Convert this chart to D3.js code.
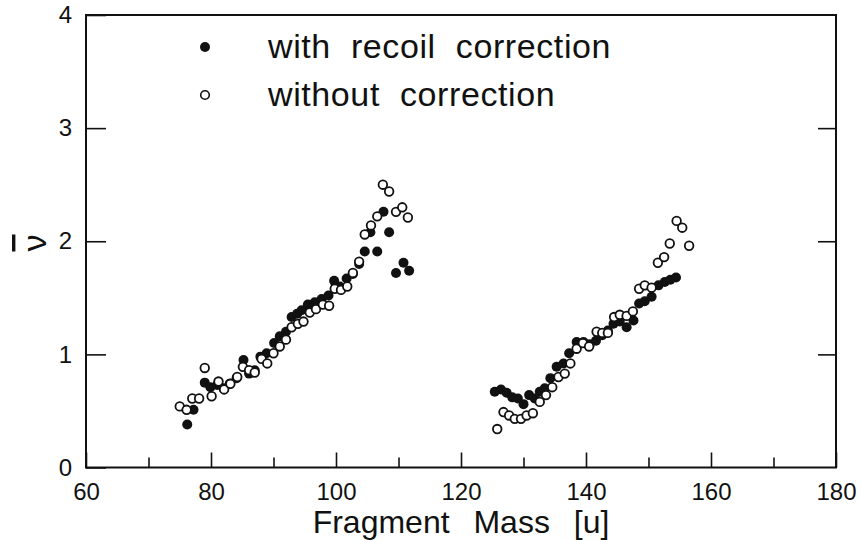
<!DOCTYPE html>
<html>
<head>
<meta charset="utf-8">
<script src="https://cdn.jsdelivr.net/npm/d3@7"></script>
<style>
  html, body { margin: 0; padding: 0; background: #fff; }
  svg text { font-family: "Liberation Sans", Arial, sans-serif; fill: #111; }
</style>
</head>
<body>
<svg id="chart" width="861" height="540"></svg>
<script>
// Mean neutron multiplicity vs fragment mass
const massWith = [76.2, 77.2, 79.0, 79.9, 81.0, 82.0, 83.0, 84.1, 85.2, 86.1, 87.0, 87.9, 88.9, 90.1, 91.0, 92.0,
  92.9, 93.8, 94.5, 95.5, 96.6, 97.7, 98.8, 99.7, 100.6, 101.7, 102.7, 103.7, 104.6, 105.5, 106.6, 107.6,
  108.5, 109.6, 110.8, 111.7,
  125.4, 126.4, 127.3, 128.2, 129.1, 130.0, 130.9, 131.8, 132.6, 133.4, 134.3, 135.3, 136.4, 137.3, 138.5,
  139.6, 140.6, 141.6, 142.6, 143.5, 144.4, 145.4, 146.5, 147.6, 148.5, 149.4, 150.5, 151.6, 152.6, 153.5, 154.4];
const nuWith = [0.38, 0.51, 0.75, 0.71, 0.73, 0.70, 0.74, 0.79, 0.95, 0.83, 0.86, 0.98, 1.01, 1.10, 1.16, 1.20,
  1.33, 1.36, 1.39, 1.44, 1.46, 1.49, 1.52, 1.65, 1.60, 1.67, 1.71, 1.80, 1.91, 2.08, 1.91, 2.26,
  2.08, 1.72, 1.81, 1.74,
  0.67, 0.69, 0.66, 0.62, 0.61, 0.56, 0.64, 0.61, 0.67, 0.70, 0.79, 0.89, 0.92, 1.01, 1.11,
  1.11, 1.09, 1.12, 1.17, 1.21, 1.27, 1.29, 1.24, 1.30, 1.45, 1.47, 1.51, 1.61, 1.64, 1.66, 1.68];

const massWithout = [75.0, 76.1, 77.0, 78.1, 79.0, 80.1, 81.2, 82.1, 83.1, 84.2, 85.1, 86.1, 87.0, 88.1, 89.0, 90.0,
  91.0, 92.0, 92.9, 93.9, 94.8, 95.8, 96.8, 97.9, 98.9, 99.8, 100.8, 101.8, 102.7, 103.7, 104.6, 105.6,
  106.6, 107.5, 108.5, 109.6, 110.6, 111.5,
  125.8, 126.8, 127.7, 128.6, 129.6, 130.5, 131.5, 132.6, 133.6, 134.6, 135.6, 136.6, 137.5, 138.5, 139.5,
  140.5, 141.7, 142.6, 143.5, 144.5, 145.4, 146.5, 147.5, 148.5, 149.4, 150.5, 151.5, 152.5, 153.4, 154.5,
  155.4, 156.5];
const nuWithout = [0.54, 0.51, 0.61, 0.61, 0.88, 0.63, 0.76, 0.69, 0.74, 0.80, 0.89, 0.86, 0.84, 0.96, 0.92, 1.01,
  1.07, 1.13, 1.24, 1.27, 1.29, 1.37, 1.40, 1.44, 1.43, 1.58, 1.57, 1.60, 1.72, 1.82, 2.06, 2.14,
  2.22, 2.50, 2.44, 2.26, 2.30, 2.21,
  0.34, 0.49, 0.46, 0.43, 0.43, 0.46, 0.48, 0.58, 0.64, 0.71, 0.80, 0.83, 0.92, 1.05, 1.10,
  1.07, 1.20, 1.19, 1.19, 1.33, 1.35, 1.34, 1.38, 1.58, 1.61, 1.59, 1.81, 1.86, 1.98, 2.18,
  2.12, 1.96];

const xMajor = [60, 80, 100, 120, 140, 160, 180];
const xMinor = [70, 90, 110, 130, 150, 170];
const yMajor = [0, 1, 2, 3, 4];
const legendLabels = ["with recoil correction", "without correction"];
const xTitle = "Fragment Mass [u]";
const yTitle = "\u03BD";

const svg = d3.select("#chart");
const plotLeft = 86, plotRight = 836, plotTop = 15, plotBottom = 467.5;

const x = d3.scaleLinear().domain([60, 180]).range([plotLeft, plotRight]);
const y = d3.scaleLinear().domain([0, 4]).range([plotBottom, plotTop]);

const ink = "#111";

// bottom axis: major ticks labelled, minor ticks shorter
const xAxis = d3.axisBottom(x).tickValues(xMajor).tickSize(-15).tickPadding(15).tickFormat(d3.format("d"));
const gx = svg.append("g").attr("transform", `translate(0,${plotBottom})`).call(xAxis);
gx.select(".domain").remove();
gx.selectAll(".tick line").attr("stroke", ink).attr("stroke-width", 1.6);
gx.selectAll(".tick text").attr("font-size", 24).attr("fill", ink);
svg.append("g").attr("transform", `translate(0,${plotBottom})`)
  .call(d3.axisBottom(x).tickValues(xMinor).tickSize(-10).tickFormat(""))
  .call(g => g.select(".domain").remove())
  .selectAll(".tick line").attr("stroke", ink).attr("stroke-width", 1.6);

// left axis with inward ticks
const yAxis = d3.axisLeft(y).tickValues(yMajor).tickSize(-20).tickPadding(14).tickFormat(d3.format("d"));
const gy = svg.append("g").attr("transform", `translate(${plotLeft},0)`).call(yAxis);
gy.select(".domain").remove();
gy.selectAll(".tick line").attr("stroke", ink).attr("stroke-width", 1.6);
gy.selectAll(".tick text").attr("font-size", 24).attr("fill", ink);

// right axis: inward ticks, no labels
svg.append("g").attr("transform", `translate(${plotRight},0)`)
  .call(d3.axisRight(y).tickValues(yMajor.slice(1, -1)).tickSize(-18).tickFormat(""))
  .call(g => g.select(".domain").remove())
  .selectAll(".tick line").attr("stroke", ink).attr("stroke-width", 1.6);

// frame
svg.append("rect")
  .attr("x", plotLeft).attr("y", plotTop)
  .attr("width", plotRight - plotLeft).attr("height", plotBottom - plotTop)
  .attr("fill", "none").attr("stroke", ink).attr("stroke-width", 2);

// data points
const withData = massWith.map((m, i) => ({ m, v: nuWith[i] }));
const withoutData = massWithout.map((m, i) => ({ m, v: nuWithout[i] }));

svg.append("g").selectAll("circle").data(withData).join("circle")
  .attr("cx", d => x(d.m)).attr("cy", d => y(d.v)).attr("r", 5)
  .attr("fill", ink);

svg.append("g").selectAll("circle").data(withoutData).join("circle")
  .attr("cx", d => x(d.m)).attr("cy", d => y(d.v)).attr("r", 4.3)
  .attr("fill", "#fff").attr("stroke", ink).attr("stroke-width", 1.8);

// legend
const lg = svg.append("g");
lg.append("circle").attr("cx", 205).attr("cy", 47).attr("r", 5).attr("fill", ink);
lg.append("circle").attr("cx", 205).attr("cy", 95).attr("r", 4.3)
  .attr("fill", "#fff").attr("stroke", ink).attr("stroke-width", 1.6);
lg.selectAll("text").data(legendLabels).join("text")
  .attr("x", 268).attr("y", (d, i) => 58 + i * 48)
  .attr("font-size", 34).attr("word-spacing", 10).attr("letter-spacing", 0.6)
  .text(d => d);

// axis titles
svg.append("text")
  .attr("x", (plotLeft + plotRight) / 2).attr("y", 533)
  .attr("text-anchor", "middle").attr("font-size", 32).attr("word-spacing", 15)
  .text(xTitle);

// y title: nu with an overline (mean multiplicity), rotated
svg.append("text")
  .attr("transform", `translate(46,243) rotate(-90)`)
  .attr("text-anchor", "middle").attr("font-size", 34)
  .attr("text-decoration", "overline")
  .text(yTitle);
</script>
</body>
</html>
